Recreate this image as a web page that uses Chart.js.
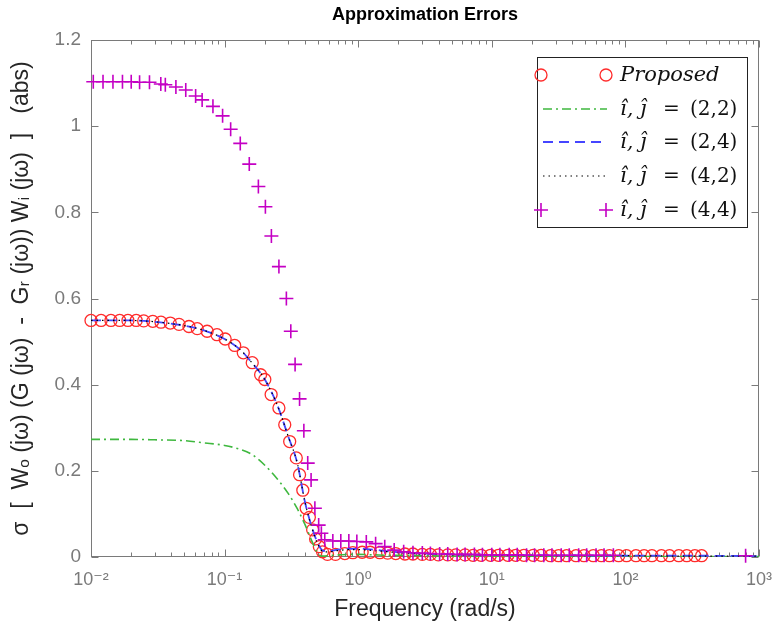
<!DOCTYPE html>
<html><head><meta charset="utf-8">
<script src="https://cdn.jsdelivr.net/npm/chart.js@4.4.0/dist/chart.umd.min.js"></script>
<style>html,body{margin:0;padding:0;background:#fff;}#wrap{width:784px;height:635px;}</style>
</head><body><div id="wrap"><canvas id="c" width="784" height="635"></canvas></div>
<script>
// ---- data ----
const propFreq = [0.0100,0.0119,0.0141,0.0164,0.0189,0.0218,0.0248,0.0290,0.0334,0.0392,0.0456,0.0541,0.0624,0.0740,0.0877,0.101,0.119,0.138,0.161,0.186,0.200,0.223,0.255,0.282,0.307,0.344,0.364,0.385,0.408,0.431,0.456,0.480,0.512,0.541,
  0.589,0.676,0.794,0.912,1.07,1.23,1.45,1.66,1.91,2.24,2.57,3.02,3.47,3.98,4.68,5.37,6.31,7.24,8.32,9.77,11.2,13.2,15.1,17.4,20.4,23.4,27.5,31.6,36.3,42.7,49.0,57.5,66.1,75.9,89.1,102,120,138,158,186,214,251,288,331,372];
const propVal = [0.549,0.549,0.549,0.549,0.549,0.549,0.548,0.547,0.545,0.543,0.540,0.535,0.530,0.524,0.516,0.506,0.491,0.474,0.451,0.423,0.412,0.377,0.346,0.307,0.268,0.230,0.191,0.155,0.113,0.092,0.063,0.042,0.024,0.012,
  0.006,0.006,0.008,0.010,0.011,0.011,0.010,0.009,0.008,0.007,0.007,0.006,0.006,0.005,0.005,0.005,0.005,0.004,0.004,0.004,0.004,0.004,0.004,0.004,0.004,0.004,0.003,0.003,0.003,0.003,0.003,0.003,0.003,0.003,0.003,0.003,0.003,0.003,0.003,0.003,0.003,0.003,0.003,0.003,0.003];
const crossFreq = [0.0104,0.0123,0.0146,0.0172,0.0200,0.0231,0.0274,0.0333,0.0360,0.0432,0.0512,0.0607,0.0679,0.0818,0.0966,0.111,0.131,0.153,0.179,0.202,0.224,0.255,0.290,0.313,0.337,0.364,0.392,0.419,0.444,0.474,0.506,0.530,
  0.562,0.646,0.741,0.851,0.977,1.15,1.35,1.58,1.86,2.19,
  2.57,3.02,3.47,4.07,4.68,5.50,6.31,7.41,8.51,10.0,11.5,13.5,15.5,18.2,20.9,24.5,28.2,33.1,38.0,44.7,51.3,60.3,69.2,81.3,794];
const crossVal = [1.103,1.103,1.103,1.103,1.103,1.102,1.102,1.098,1.096,1.091,1.084,1.070,1.061,1.046,1.024,0.993,0.960,0.912,0.860,0.813,0.745,0.674,0.600,0.524,0.447,0.367,0.293,0.218,0.179,0.113,0.074,0.055,
  0.040,0.037,0.037,0.037,0.036,0.035,0.031,0.024,0.016,0.012,
  0.010,0.009,0.008,0.007,0.007,0.006,0.006,0.006,0.005,0.005,0.005,0.005,0.005,0.004,0.004,0.004,0.004,0.004,0.004,0.004,0.004,0.004,0.004,0.004,0.003];
const lineFreq = [0.01,0.02,0.03,0.05,0.07,0.1,0.13,0.16,0.2,0.25,0.3,0.35,0.4,0.45,0.5,0.55,0.6,0.7,0.85,1,1.3,1.7,2.2,3,5,10,30,100,300,1000];
const g22Val = [0.273,0.273,0.272,0.270,0.265,0.259,0.250,0.238,0.213,0.180,0.147,0.112,0.075,0.037,0.008,0.002,0.003,0.005,0.006,0.006,0.005,0.004,0.004,0.003,0.002,0.002,0.001,0.001,0.001,0.001];
const g24Val = [0.549,0.549,0.546,0.537,0.526,0.506,0.482,0.451,0.412,0.350,0.279,0.218,0.127,0.069,0.031,0.014,0.014,0.017,0.019,0.019,0.017,0.013,0.010,0.008,0.006,0.005,0.004,0.003,0.003,0.002];
const g42Val = [0.549,0.549,0.546,0.537,0.526,0.506,0.482,0.451,0.412,0.350,0.279,0.218,0.127,0.068,0.029,0.012,0.012,0.015,0.017,0.017,0.015,0.012,0.009,0.007,0.005,0.004,0.003,0.003,0.002,0.002];

const yTicks = [0,0.2,0.4,0.6,0.8,1,1.2];
const yTickLabels = ['0','0.2','0.4','0.6','0.8','1','1.2'];
const xTicks = [0.01,0.1,1,10,100,1000];
const xTickLabels = ['10\u207B\u00B2','10\u207B\u00B9','10\u2070','10\u00B9','10\u00B2','10\u00B3'];
const seriesLabels = ['Proposed','\u00EE, \u0135 = (2,2)','\u00EE, \u0135 = (2,4)','\u00EE, \u0135 = (4,2)','\u00EE, \u0135 = (4,4)'];
const legendItalic = ['Proposed','\u00EE, \u0135','\u00EE, \u0135','\u00EE, \u0135','\u00EE, \u0135'];
const legendPair = ['','(2,2)','(2,4)','(4,2)','(4,4)'];
const titleText = 'Approximation Errors';
const xTitle = 'Frequency (rad/s)';
const yTitle = '\u03C3  [  W\u2092 (j\u03C9) (G (j\u03C9)  -  G\u1D63 (j\u03C9)) W\u1D62 (j\u03C9)  ]   (abs)';

function pts(xs, ys){ return xs.map((x,i)=>({x:x, y:ys[i]})); }

const RED='#ff2b2b', GREEN='#3fb83f', BLUE='#4545ff', BLACK='#000000', MAG='#c400c4';

const datasets = [
  {label:seriesLabels[0], data:pts(propFreq,propVal), showLine:false, pointStyle:'circle', pointRadius:6,
   pointBorderColor:RED, pointBackgroundColor:'rgba(0,0,0,0)', pointBorderWidth:1.3, borderColor:RED, backgroundColor:'rgba(0,0,0,0)', order:5, clip:false},
  {label:seriesLabels[1], data:pts(lineFreq,g22Val), borderColor:GREEN, borderWidth:1.6, borderDash:[9,4,2,4], pointRadius:0, cubicInterpolationMode:'monotone', fill:false, order:4},
  {label:seriesLabels[2], data:pts(lineFreq,g24Val), borderColor:BLUE, borderWidth:1.8, borderDash:[10,6], pointRadius:0, cubicInterpolationMode:'monotone', fill:false, order:3},
  {label:seriesLabels[3], data:pts(lineFreq,g42Val), borderColor:BLACK, borderWidth:1.2, borderDash:[1.5,4], pointRadius:0, cubicInterpolationMode:'monotone', fill:false, order:2},
  {label:seriesLabels[4], data:pts(crossFreq,crossVal), showLine:false, pointStyle:'cross', pointRadius:7,
   pointBorderColor:MAG, pointBorderWidth:1.6, borderColor:MAG, order:1, clip:false}
];

const AXIS='#7a7a7a';
const boxPlugin = {
  id:'boxPlugin',
  afterLayout(chart){
    const t=chart.titleBlock, a=chart.chartArea;
    if(t){ t.left=a.left; t.right=a.right; t.width=a.right-a.left; }
  },
  beforeDatasetsDraw(chart){
    const ctx=chart.ctx, a=chart.chartArea, xs=chart.scales.x, ys=chart.scales.y;
    ctx.save();
    ctx.strokeStyle=AXIS; ctx.lineWidth=1; ctx.setLineDash([]);
    ctx.strokeRect(Math.round(a.left)+0.5, Math.round(a.top)+0.5, Math.round(a.right-a.left)-1, Math.round(a.bottom-a.top)-1);
    const L=Math.round(a.left)+0.5, R=Math.round(a.right)-0.5, T=Math.round(a.top)+0.5, B=Math.round(a.bottom)-0.5;
    ctx.beginPath();
    yTicks.forEach(v=>{const p=Math.round(ys.getPixelForValue(v))+0.5; ctx.moveTo(L,p); ctx.lineTo(L+7,p); ctx.moveTo(R,p); ctx.lineTo(R-7,p);});
    xTicks.forEach(v=>{const p=Math.round(xs.getPixelForValue(v))+0.5; ctx.moveTo(p,B); ctx.lineTo(p,B-7); ctx.moveTo(p,T); ctx.lineTo(p,T+7);});
    for(let d=0; d<xTicks.length-1; d++){
      for(let k=2;k<=9;k++){
        const p=Math.round(xs.getPixelForValue(xTicks[d]*k))+0.5;
        ctx.moveTo(p,B); ctx.lineTo(p,B-4); ctx.moveTo(p,T); ctx.lineTo(p,T+4);
      }
    }
    ctx.stroke();
    ctx.restore();
  },
  afterDatasetsDraw(chart){
    const ctx=chart.ctx;
    ctx.save();
    const bx=537.5, by=57.5, bw=210, bh=170;
    ctx.fillStyle='#fff'; ctx.fillRect(bx,by,bw,bh);
    ctx.strokeStyle='#222'; ctx.lineWidth=1; ctx.setLineDash([]); ctx.strokeRect(bx,by,bw,bh);
    const rowY=[75,109,142,176,210];
    const ds=chart.data.datasets;
    for(let i=0;i<ds.length;i++){
      const d=ds[i], y=rowY[i];
      if(d.showLine!==false){
        ctx.save(); ctx.strokeStyle=d.borderColor; ctx.lineWidth=d.borderWidth; ctx.setLineDash(d.borderDash||[]);
        ctx.beginPath(); ctx.moveTo(543,y); ctx.lineTo(607,y); ctx.stroke(); ctx.restore();
      } else {
        ctx.save(); ctx.strokeStyle=d.pointBorderColor; ctx.fillStyle='rgba(0,0,0,0)'; ctx.lineWidth=d.pointBorderWidth; ctx.setLineDash([]);
        [541,606].forEach(px=>Chart.helpers.drawPoint(ctx,{pointStyle:d.pointStyle,radius:d.pointRadius,borderWidth:d.pointBorderWidth,rotation:0},px,y));
        ctx.restore();
      }
      ctx.fillStyle='#111'; ctx.textBaseline='middle'; ctx.textAlign='left';
      ctx.font='italic 21px "DejaVu Serif"';
      ctx.fillText(legendItalic[i],620,y+1);
      if(legendPair[i]){
        ctx.font='20px "DejaVu Serif"';
        ctx.fillText('=',663,y+1);
        ctx.fillText(legendPair[i],690,y+1);
      }
    }
    ctx.restore();
  }
};

new Chart(document.getElementById('c'), {
  type:'line',
  data:{datasets:datasets},
  options:{
    responsive:false, animation:false, events:[],
    layout:{padding:{left:0,right:19,top:0,bottom:0}},
    plugins:{
      legend:{display:false}, tooltip:{enabled:false},
      title:{display:true, text:titleText, color:'#000', font:{family:'"Liberation Sans", Arial, sans-serif', size:18, weight:'bold'}, padding:{top:4.2,bottom:14.2}}
    },
    scales:{
      x:{type:'logarithmic', min:0.01, max:1000,
        afterFit:(s)=>{s.height=78;},
        afterBuildTicks:(s)=>{s.ticks=xTicks.map(v=>({value:v}));},
        grid:{display:false, drawTicks:false}, border:{display:false},
        ticks:{autoSkip:false, maxRotation:0, padding:12, color:'#7a7a7a', font:{family:'"Liberation Sans", "DejaVu Sans", sans-serif', size:18},
          callback:(v,i)=>xTickLabels[i]},
        title:{display:true, text:xTitle, color:'#262626', font:{family:'"Liberation Sans", sans-serif', size:23}, padding:{top:0,bottom:12}}
      },
      y:{min:0, max:1.2,
        afterFit:(s)=>{s.width=91;},
        afterBuildTicks:(s)=>{s.ticks=yTicks.map(v=>({value:v}));},
        grid:{display:false, drawTicks:false}, border:{display:false},
        ticks:{autoSkip:false, padding:10, color:'#7a7a7a', font:{family:'"Liberation Sans", sans-serif', size:19},
          callback:(v,i)=>yTickLabels[i]},
        title:{display:true, text:yTitle, color:'#262626', font:{family:'"Liberation Sans", "DejaVu Sans", sans-serif', size:23}, padding:{top:8,bottom:0}}
      }
    }
  },
  plugins:[boxPlugin]
});
</script></body></html>
